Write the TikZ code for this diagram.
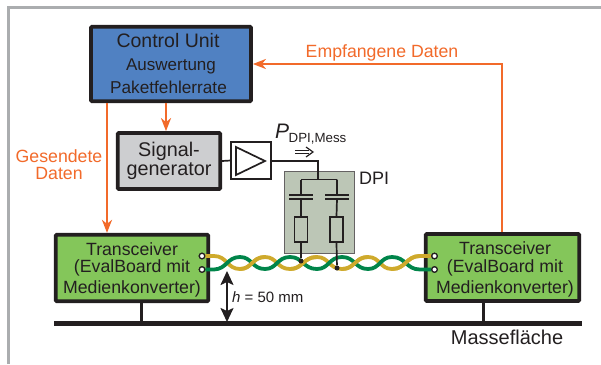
\documentclass[tikz,border=0pt]{standalone}
\usepackage{fontspec}
\setmainfont{Liberation Sans}
\usetikzlibrary{arrows.meta,calc}
\definecolor{ink}{HTML}{231F20}
\definecolor{ctrlblue}{HTML}{5081C2}
\definecolor{boardgreen}{HTML}{84C65A}
\definecolor{siggray}{HTML}{CDCED0}
\definecolor{dpigray}{HTML}{BCC6B6}
\definecolor{orangeline}{HTML}{F26A2A}
\definecolor{wireyellow}{HTML}{CFAA2C}
\definecolor{wiregreen}{HTML}{00854A}
\definecolor{framegray}{HTML}{ABADAF}
\newcommand{\fsz}[1]{\fontsize{#1}{#1}\selectfont}
\tikzset{
  mainbox/.style={draw=ink,line width=3.8pt,rounded corners=1pt,inner sep=0pt,align=center,text=ink},
  thinbox/.style={draw=ink,line width=1.7pt,inner sep=0pt},
  wirebk/.style={draw=ink,line width=1.7pt},
  orangearrow/.style={draw=orangeline,line width=2pt,-{Stealth[length=13pt,width=10pt,inset=4pt]}},
  orangetext/.style={text=orangeline,anchor=base,inner sep=0pt,font=\fsz{17.7}},
  plain/.style={text=ink,anchor=base,inner sep=0pt},
  pin/.style={circle,draw=ink,fill=white,line width=1.2pt,minimum size=5.5pt,inner sep=0pt},
  joint/.style={circle,fill=ink,minimum size=5pt,inner sep=0pt},
  plate/.style={draw=ink,line width=1.9pt},
  twist/.style={line width=3.8pt},
}
\begin{document}
\begin{tikzpicture}[x=1pt,y=-1pt]
\useasboundingbox (0,0) rectangle (601,364);
\fill[white] (0,0) rectangle (601,364);
% frame
\draw[framegray,line width=3pt] (8.5,364) -- (8.5,7) -- (601,7);

% boxes
\node[mainbox,fill=ctrlblue,minimum width=160pt,minimum height=74.5pt] (ctrl) at (171,64)
  {\fsz{19.5}Control Unit\hspace*{6pt}\\[11pt]\fsz{17}Auswertung\hspace*{6pt}\\[6pt]\fsz{17.2}Paketfehlerrate\hspace*{5pt}};
\node[mainbox,fill=siggray,minimum width=102.5pt,minimum height=56pt] (sig) at (169,161)
  {\fsz{19.8}Signal-\\[1.5pt]\fsz{19.8}generator};
\node[thinbox,fill=white,minimum width=39.5pt,minimum height=37pt] (amp) at (251,160.5) {};
\node[draw=ink!70,line width=1pt,fill=dpigray,minimum width=70pt,minimum height=82pt,inner sep=0pt] (dpi) at (319,212) {};
\node[mainbox,fill=boardgreen,minimum width=152.5pt,minimum height=66.5pt] (txl) at (132,268)
  {\fsz{17.7}\rule{0pt}{17pt}Transceiver\\[3.5pt]\fsz{17.7}(EvalBoard mit\\[3.5pt]\fsz{17.7}Medienkonverter)};
\node[mainbox,fill=boardgreen,minimum width=153.5pt,minimum height=67pt] (txr) at (502.5,267.5)
  {\fsz{17.7}\rule{0pt}{17pt}\hspace*{5pt}Transceiver\\[3.5pt]\fsz{17.7}\hspace*{5pt}(EvalBoard mit\\[3.5pt]\fsz{17.7}\hspace*{5pt}Medienkonverter)};

% amplifier triangle
\draw[ink,line width=1.7pt,line join=miter] (236,147) -- (265,161) -- (236,175) -- cycle;

% ground plane
\fill[ink] (54,321) rectangle (582,326);
\coordinate (gl) at (141.5,323);
\coordinate (gr) at (483.5,323);
\draw[ink,line width=3pt] (txl.south -| gl) -- (gl);
\draw[ink,line width=3pt] (txr.south -| gr) -- (gr);

% pins
\node[pin] (pl1) at (202,256) {};
\node[pin] (pl2) at (202,269.5) {};
\node[pin] (pr1) at (434.5,256) {};
\node[pin] (pr2) at (434.5,269.5) {};

% twisted pair
\begin{scope}[twist]
\draw[wireyellow] (pl1) -- (214,256)
  .. controls (227,256) and (227,269) .. (240,269)
  .. controls (252,269) and (252,257) .. (265,257)
  .. controls (277,257) and (277,269) .. (290,269)
  .. controls (303,269) and (303,257) .. (317,257)
  .. controls (329,257) and (329,269) .. (342,269)
  .. controls (355,269) and (355,257) .. (368,257)
  .. controls (380,257) and (380,269) .. (392,269)
  .. controls (406,269) and (406,256) .. (420,256) -- (pr1);
\draw[wiregreen] (pl2) -- (214,269.5)
  .. controls (227,269) and (227,257) .. (240,257)
  .. controls (252,257) and (252,269) .. (265,269)
  .. controls (277,269) and (277,257) .. (290,257)
  .. controls (303,257) and (303,269) .. (317,269)
  .. controls (329,269) and (329,257) .. (342,257)
  .. controls (355,257) and (355,269) .. (368,269)
  .. controls (380,269) and (380,257) .. (392,257)
  .. controls (406,257) and (406,269.5) .. (420,269.5) -- (pr2);
\draw[wireyellow] (240,269) .. controls (252,269) and (252,257) .. (265,257);
\draw[wireyellow] (290,269) .. controls (303,269) and (303,257) .. (317,257);
\draw[wireyellow] (342,269) .. controls (355,269) and (355,257) .. (368,257);
\draw[wireyellow] (392,269) .. controls (406,269) and (406,256) .. (420,256);
\end{scope}
\node[pin] at (pl1) {};
\node[pin] at (pl2) {};
\node[pin] at (pr1) {};
\node[pin] at (pr2) {};

% DPI network
\coordinate (busl) at (301,179.5);
\coordinate (busr) at (337,179.5);
\coordinate (feed) at (318,161);
\node[joint] (j1) at (301,261) {};
\node[joint] (j2) at (337,268) {};
\node[thinbox,fill=dpigray,minimum width=13pt,minimum height=25pt] (r1) at (301,229.5) {};
\node[thinbox,fill=dpigray,minimum width=13pt,minimum height=25pt] (r2) at (336.5,229.5) {};
\draw[wirebk] (sig.east) -- (amp.west);
\draw[wirebk] (amp.east |- feed) -- (feed) -- (feed |- busl);
\draw[wirebk] (busl) -- (busr);
\draw[wirebk] (busl) -- (301,195) (301,199) -- (r1.north);
\draw[wirebk] (busr) -- (337,195) (337,199) -- (r2.north);
\draw[plate] (289,195) -- (313,195) (289,199) -- (313,199);
\draw[plate] (325,195) -- (349,195) (325,199) -- (349,199);
\draw[wirebk] (r1.south) -- (j1);
\draw[wirebk] (r2.south) -- (j2);

% orange connectors
\coordinate (gx) at (107,0);
\coordinate (gy) at (166,0);
\coordinate (emp) at (502,64);
\draw[orangearrow] (ctrl.south -| gx) -- (txl.north -| gx);
\draw[orangearrow] (ctrl.south -| gy) -- (sig.north -| gy);
\draw[orangearrow] (txr.north -| emp) -- (emp) -- (ctrl.east |- emp);

% height arrow
\coordinate (ha) at (227,271);
\coordinate (hb) at (227,322);
\draw[ink,line width=2pt,{Stealth[length=14pt,width=13pt,inset=3pt]}-{Stealth[length=14pt,width=13pt,inset=3pt]}] (ha) -- (hb);

% labels
\node[orangetext] (lg1) at (59,162) {Gesendete};
\node[orangetext] (lg2) at (59,179) {Daten};
\node[orangetext] (le) at (382,57) {Empfangene Daten};
\node[plain,font=\fsz{18}] (ld) at (374,184) {DPI};
\node[plain,font=\fsz{20}] (lm) at (507,344) {Massefläche};
\node[plain,anchor=base west,font=\fsz{15}] (lh) at (232,302) {\textit{h} = 50 mm};
\node[plain,anchor=base west,font=\fsz{21}] (lp) at (275,138) {\textit{P}};
\node[plain,anchor=base west,font=\fsz{13.3}] (ls) at (288.5,142) {DPI,Mess};
\draw[ink,line width=1.1pt,double,double distance=2.4pt] (295,152) -- (309,152);
\draw[ink,line width=1.2pt] (306,147) -- (313,152) -- (306,157);
\end{tikzpicture}
\end{document}
